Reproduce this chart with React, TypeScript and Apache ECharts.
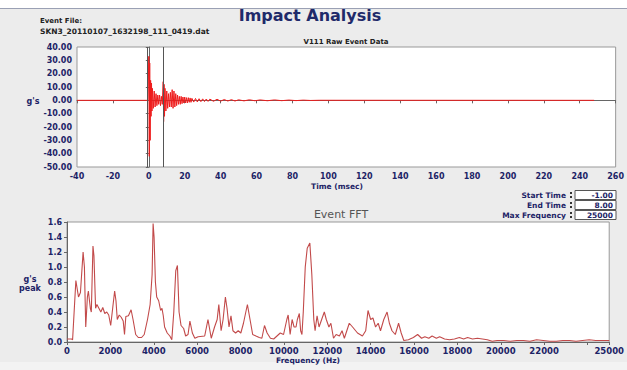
import React, { useEffect, useRef } from "react";
import * as echarts from "echarts";

// ---------- data ----------
const timeMs: number[] = [
  -40, -0.5, 0, 0.25, 0.5, 0.75, 1.0, 1.25, 1.5, 1.75, 2, 2.5, 3, 3.5, 4, 4.5, 5, 5.5, 6, 6.5, 7, 7.5,
  8, 8.25, 8.5, 8.75, 9, 9.5, 10, 10.5, 11, 11.5, 12, 12.5, 13, 13.5, 14, 14.5, 15, 15.5, 16, 16.5,
  17, 17.5, 18, 18.5, 19, 19.5, 20, 20.5, 21, 21.5, 22, 22.5, 23, 23.5, 24, 25, 26, 27, 28, 29, 30,
  31, 32, 33, 34, 36, 38, 40, 42, 44, 46, 48, 50, 53, 56, 59, 62, 66, 70, 74, 78, 82, 86, 90, 95, 248,
];
const accelG: number[] = [
  0, 0, 33, -42, 28, -30, 15, -12, 13, -8, 9, -6, 7, -5, 5, -4, 4, -3, 4, -4, 3, -3,
  14, -16, 12, -12, 9, -8, 7, -6, 5, -5, 6, -5, 8, -6, 7, -5, 5, -4, 4, -3,
  3, -3, 3, -2.5, 2.5, -2, 2.5, -2, 2, -2, 2, -1.5, 1.8, -1.5, 1.5, -1.3, 1.4, -1.2, 1.2, -1.0, 1.1,
  -0.9, 1.0, -0.8, 0.9, -0.7, 0.8, -0.6, 0.6, -0.5, 0.5, -0.5, 0.4, -0.4, 0.4, -0.3, 0.3, -0.3, 0.3, -0.25, 0.2, -0.2, 0.15, -0.1, 0.05, 0,
];

const freqHz: number[] = [
  0, 212, 258, 409, 530, 620, 742, 803, 864, 940, 985, 1076, 1121, 1197, 1242, 1318, 1379, 1470, 1560,
  1650, 1742, 1833, 1924, 2015, 2106, 2197, 2258, 2318, 2409, 2500, 2591, 2652, 2712, 2833, 2955, 3045,
  3167, 3288, 3439, 3561, 3712, 3833, 3924, 3970, 4015, 4076, 4136, 4227, 4318, 4379, 4439, 4500, 4621,
  4742, 4833, 4924, 5015, 5091, 5167, 5258, 5379, 5470, 5580, 5667, 5780, 5894, 6045, 6348, 6500, 6651,
  6803, 6924, 7000, 7106, 7197, 7303, 7379, 7470, 7561, 7651, 7773, 7894, 8015, 8136, 8318, 8439, 8561,
  8712, 8864, 8985, 9106, 9227, 9379, 9530, 9682, 9833, 9985, 10136, 10197, 10288, 10379, 10470, 10560,
  10621, 10712, 10773, 10833, 10894, 10985, 11076, 11197, 11288, 11379, 11439, 11530, 11621, 11742,
  11864, 11955, 12076, 12167, 12288, 12409, 12561, 12682, 12788, 13015, 13167, 13394, 13621, 13773,
  13879, 14000, 14106, 14227, 14348, 14455, 14606, 14758, 14864, 14985, 15136, 15288, 15409, 15530,
  15742, 15970, 16167, 16348, 16500, 16682, 16833, 17030, 17182, 17409, 17636, 17864, 18091, 18288,
  18470, 18697, 18924, 19152, 19379, 19606, 19833, 20136, 20439, 20742, 21045, 21348, 21652, 21955,
  22258, 22561, 22864, 23167, 23470, 23773, 24076, 24379, 24682, 25000,
];
const fftPeak: number[] = [
  0.04, 0.04, 0.03, 0.82, 0.6, 0.66, 1.2, 1.0, 0.2, 0.6, 0.68, 0.45, 0.4, 1.28, 1.15, 0.45, 0.5, 0.45, 0.4,
  0.46, 0.38, 0.4, 0.36, 0.22, 0.45, 0.68, 0.55, 0.3, 0.36, 0.33, 0.28, 0.1, 0.34, 0.35, 0.43, 0.3,
  0.1, 0.06, 0.06, 0.1, 0.3, 0.5, 0.9, 1.58, 1.4, 0.8, 0.6, 0.55, 0.42, 0.45, 0.35, 0.2, 0.12,
  0.08, 0.03, 0.4, 0.95, 1.02, 0.4, 0.22, 0.18, 0.08, 0.1, 0.28, 0.12, 0.05, 0.07, 0.08, 0.3, 0.05,
  0.2, 0.3, 0.5, 0.15, 0.3, 0.6, 0.45, 0.2, 0.35, 0.15, 0.12, 0.15, 0.12, 0.25, 0.5, 0.3, 0.1,
  0.08, 0.06, 0.05, 0.22, 0.12, 0.05, 0.04, 0.08, 0.12, 0.1, 0.3, 0.36, 0.1, 0.3, 0.2, 0.2,
  0.3, 0.38, 0.15, 0.1, 0.4, 1.0, 1.25, 1.32, 0.9, 0.3, 0.15, 0.35, 0.2, 0.3,
  0.4, 0.3, 0.2, 0.25, 0.05, 0.1, 0.08, 0.15, 0.05, 0.25, 0.2, 0.12, 0.08, 0.15,
  0.42, 0.3, 0.32, 0.2, 0.25, 0.15, 0.3, 0.4, 0.25, 0.15, 0.1, 0.25, 0.12, 0.02,
  0.03, 0.06, 0.1, 0.05, 0.07, 0.05, 0.08, 0.05, 0.07, 0.04, 0.03, 0.04, 0.06, 0.04,
  0.06, 0.04, 0.05, 0.04, 0.03, 0.01, 0.02, 0.02, 0.01, 0.02, 0.02, 0.01, 0.03, 0.02,
  0.01, 0.01, 0.02, 0.02, 0.01, 0.02, 0.03, 0.02, 0.02, 0.02,
];

const startTime = -1.0;
const endTime = 8.0;
const maxFrequency = 25000;

const freqLabelValues = [0, 2000, 4000, 6000, 8000, 10000, 12000, 14000, 16000, 18000, 20000, 22000, 25000];
const freqTickValues = [0, 2000, 4000, 6000, 8000, 10000, 12000, 14000, 16000, 18000, 20000, 22000, 24000, 25000];

const eventFile = "SKN3_20110107_1632198_111_0419.dat";

// ---------- chart ----------
const FONT = "DejaVu Sans";
const NAVY = "#1c2366";

export default function App() {
  const ref = useRef<HTMLDivElement>(null);
  useEffect(() => {
    document.body.style.margin = "0";
    if (!ref.current) return;
    const chart = echarts.init(ref.current, null, { renderer: "svg" });
    const lbl = { color: NAVY, fontFamily: FONT, fontWeight: "bold" as const, fontSize: 8 };
    const ctrlRows = [
      { name: "Start Time", value: startTime.toFixed(2), y: 195 },
      { name: "End Time", value: endTime.toFixed(2), y: 205 },
      { name: "Max Frequency", value: String(maxFrequency), y: 215 },
    ];
    const graphics: any[] = [
      { type: "rect", shape: { x: 0, y: 0, width: 627, height: 8 }, style: { fill: "#ffffff" }, silent: true },
      { type: "line", shape: { x1: 0, y1: 8.5, x2: 627, y2: 8.5 }, style: { stroke: "#9aa0b4", lineWidth: 1 } },
      { type: "rect", shape: { x: 0, y: 362, width: 627, height: 8 }, style: { fill: "#f3f3f3" }, silent: true },
      {
        type: "text", x: 310, y: 15,
        style: { text: "Impact Analysis", fill: "#1f2a6a", font: `bold 16px ${FONT}`, textAlign: "center", textVerticalAlign: "middle" },
      },
      { type: "text", x: 40, y: 21, style: { text: "Event File:", fill: "#222", font: `bold 7px ${FONT}`, textVerticalAlign: "middle" } },
      { type: "text", x: 40, y: 31, style: { text: eventFile, fill: "#222", font: `bold 7.5px ${FONT}`, textVerticalAlign: "middle" } },
      { type: "text", x: 346, y: 42, style: { text: "V111 Raw Event Data", fill: "#222", font: `bold 7px ${FONT}`, textAlign: "center", textVerticalAlign: "middle" } },
      { type: "text", x: 33, y: 101, style: { text: "g's", fill: NAVY, font: `bold 8px ${FONT}`, textAlign: "center", textVerticalAlign: "middle" } },
      { type: "text", x: 337, y: 186, style: { text: "Time (msec)", fill: NAVY, font: `bold 7.5px ${FONT}`, textAlign: "center", textVerticalAlign: "middle" } },
      { type: "text", x: 341, y: 214, style: { text: "Event FFT", fill: "#555", font: `11px ${FONT}`, textAlign: "center", textVerticalAlign: "middle" } },
      { type: "text", x: 30, y: 279, style: { text: "g's", fill: NAVY, font: `bold 8px ${FONT}`, textAlign: "center", textVerticalAlign: "middle" } },
      { type: "text", x: 30, y: 288, style: { text: "peak", fill: NAVY, font: `bold 8px ${FONT}`, textAlign: "center", textVerticalAlign: "middle" } },
      { type: "text", x: 308, y: 360, style: { text: "Frequency (Hz)", fill: NAVY, font: `bold 7.5px ${FONT}`, textAlign: "center", textVerticalAlign: "middle" } },
    ];
    ctrlRows.forEach((r) => {
      graphics.push(
        { type: "text", x: 566, y: r.y, style: { text: r.name, fill: NAVY, font: `bold 7.5px ${FONT}`, textAlign: "right", textVerticalAlign: "middle" } },
        { type: "rect", shape: { x: 570, y: r.y - 3, width: 2, height: 2 }, style: { fill: "#333" } },
        { type: "rect", shape: { x: 570, y: r.y + 1, width: 2, height: 2 }, style: { fill: "#333" } },
        { type: "rect", shape: { x: 575, y: r.y - 4.5, width: 41, height: 9 }, style: { fill: "#fff", stroke: "#555", lineWidth: 1 } },
        { type: "text", x: 613, y: r.y, style: { text: r.value, fill: NAVY, font: `bold 7.5px ${FONT}`, textAlign: "right", textVerticalAlign: "middle" } },
      );
    });

    const axisCommon = {
      axisLine: { show: true, lineStyle: { color: "#666", width: 1 } },
      axisTick: { show: true, length: 3, lineStyle: { color: "#666" } },
      splitLine: { show: false },
    };

    chart.setOption({
      animation: false,
      backgroundColor: "#ececec",
      grid: [
        { left: 77, top: 47, width: 540, height: 120, show: true, backgroundColor: "#fff", borderColor: "#999", borderWidth: 1 },
        { left: 67, top: 222, width: 550, height: 120, show: true, backgroundColor: "#fff", borderColor: "#999", borderWidth: 1 },
      ],
      xAxis: [
        {
          gridIndex: 0, type: "value", min: -40, max: 260, interval: 20, ...axisCommon,
          axisLabel: { ...lbl, margin: 5 },
        },
        {
          gridIndex: 1, type: "value", min: 0, max: maxFrequency, interval: 2000, ...axisCommon,
          axisTick: { ...axisCommon.axisTick, customValues: freqTickValues },
          axisLabel: { ...lbl, fontSize: 8.5, margin: 4, customValues: freqLabelValues, showMaxLabel: true, formatter: (v: number) => String(v) },
        },
      ],
      yAxis: [
        {
          gridIndex: 0, type: "value", min: -50, max: 40, interval: 10, ...axisCommon,
          axisLabel: { ...lbl, margin: 5, formatter: (v: number) => v.toFixed(2) },
        },
        {
          gridIndex: 1, type: "value", min: 0, max: 1.6, interval: 0.2, ...axisCommon,
          axisLabel: { ...lbl, margin: 5, formatter: (v: number) => v.toFixed(1) },
        },
      ],
      series: [
        {
          type: "line", xAxisIndex: 0, yAxisIndex: 0, symbol: "none",
          data: timeMs.map((t, i) => [t, accelG[i]]),
          lineStyle: { color: "#ee1c1c", width: 1 },
          markLine: {
            symbol: "none", silent: true, label: { show: false },
            lineStyle: { color: "#555", width: 1, type: "solid" },
            data: [{ xAxis: startTime }, { xAxis: endTime }],
          },
          z: 3,
        },
        {
          type: "line", xAxisIndex: 1, yAxisIndex: 1, symbol: "none",
          data: freqHz.map((f, i) => [f, fftPeak[i]]),
          lineStyle: { color: "#c24a4a", width: 1.1 },
        },
      ],
      graphic: graphics,
    });
    return () => chart.dispose();
  }, []);
  return <div ref={ref} style={{ width: 627, height: 370 }} />;
}
